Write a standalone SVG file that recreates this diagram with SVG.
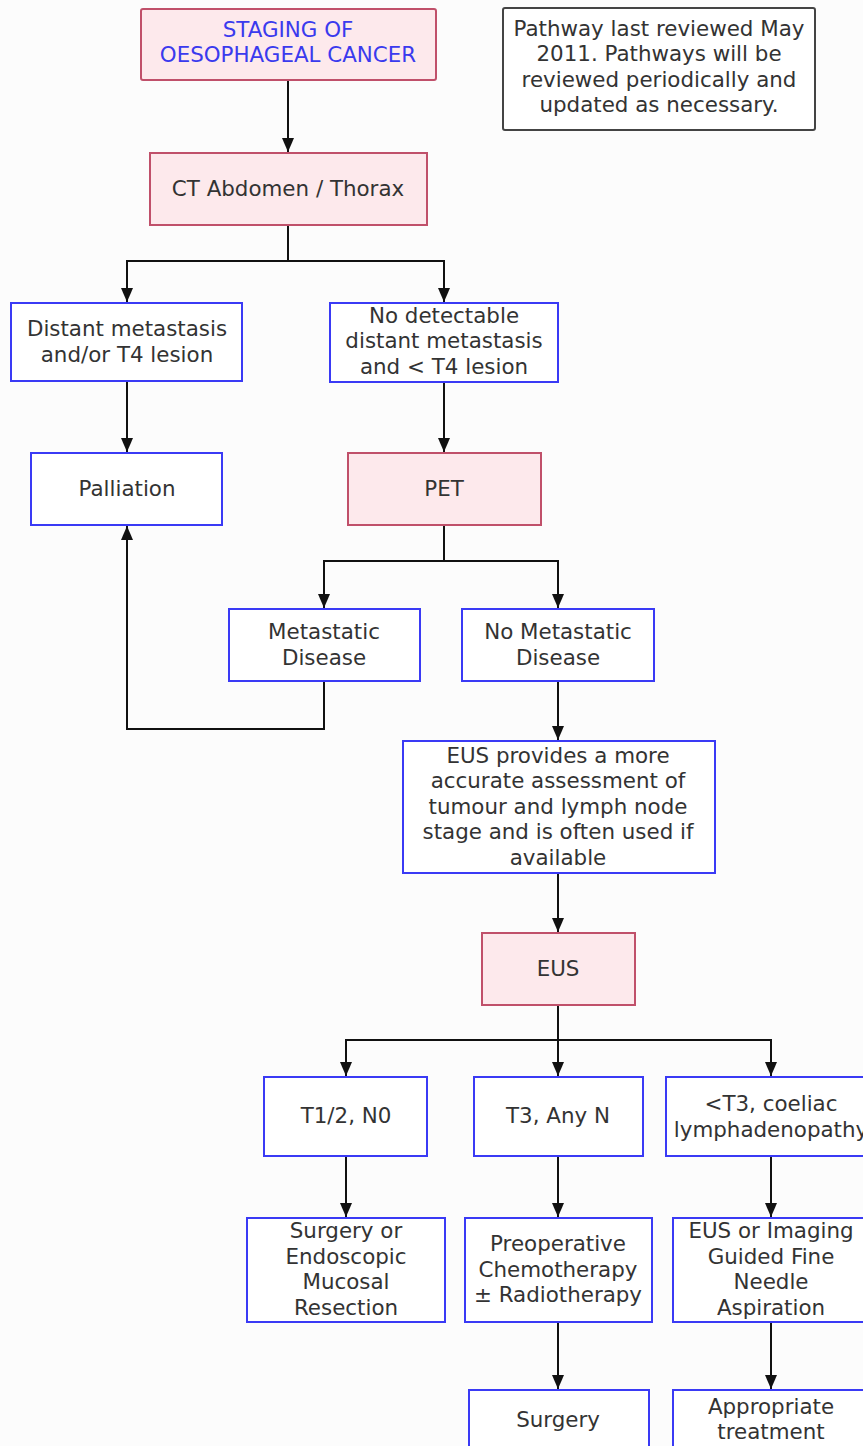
<svg xmlns="http://www.w3.org/2000/svg" width="863" height="1446" viewBox="0 0 863 1446">
<style>
text{font-family:"DejaVu Sans","Liberation Sans",sans-serif;font-size:21.4px;fill:#333;text-anchor:middle}
.b{fill:#fff;stroke:#3a3af5;stroke-width:2}
.p{fill:#fde9ec;stroke:#c0506a;stroke-width:2}
.n{fill:#fff;stroke:#444;stroke-width:2}
.t{fill:#3a3aee}
.c{fill:none;stroke:#111;stroke-width:2}
</style>
<defs>
<marker id="ah" markerUnits="userSpaceOnUse" viewBox="0 0 12 14" markerWidth="12" markerHeight="14" refX="14" refY="6" orient="auto">
<path d="M0,0 L14,6 L0,12 z" fill="#111"/>
</marker>
</defs>
<rect width="863" height="1446" fill="#fcfcfc"/>
<g id="connectors">
<path class="c" d="M288,80 V152" marker-end="url(#ah)"/>
<path class="c" d="M288,225 V261 H127 V302" marker-end="url(#ah)"/>
<path class="c" d="M288,261 H444 V302" marker-end="url(#ah)"/>
<path class="c" d="M127,382 V452" marker-end="url(#ah)"/>
<path class="c" d="M444,382 V452" marker-end="url(#ah)"/>
<path class="c" d="M444,525 V561 H324 V608" marker-end="url(#ah)"/>
<path class="c" d="M444,561 H558 V608" marker-end="url(#ah)"/>
<path class="c" d="M324,681 V729 H127 V526" marker-end="url(#ah)"/>
<path class="c" d="M558,681 V740" marker-end="url(#ah)"/>
<path class="c" d="M558,873 V932" marker-end="url(#ah)"/>
<path class="c" d="M558,1005 V1040 H346 V1076" marker-end="url(#ah)"/>
<path class="c" d="M558,1040 V1076" marker-end="url(#ah)"/>
<path class="c" d="M558,1040 H771 V1076" marker-end="url(#ah)"/>
<path class="c" d="M346,1156 V1217" marker-end="url(#ah)"/>
<path class="c" d="M558,1156 V1217" marker-end="url(#ah)"/>
<path class="c" d="M771,1156 V1217" marker-end="url(#ah)"/>
<path class="c" d="M558,1322 V1389" marker-end="url(#ah)"/>
<path class="c" d="M771,1322 V1389" marker-end="url(#ah)"/>
</g>
<g id="title">
<rect class="p" x="141" y="9" width="295" height="71" rx="2"/>
<text class="t" x="288" y="37">STAGING OF</text>
<text class="t" x="288" y="62">OESOPHAGEAL CANCER</text>
</g>
<g id="note">
<rect class="n" x="503" y="8" width="312" height="122" rx="2"/>
<text x="659" y="36">Pathway last reviewed May</text>
<text x="659" y="61">2011. Pathways will be</text>
<text x="659" y="87">reviewed periodically and</text>
<text x="659" y="112">updated as necessary.</text>
</g>
<g id="ct">
<rect class="p" x="150" y="153" width="277" height="72"/>
<text x="288" y="196">CT Abdomen / Thorax</text>
</g>
<g id="distant">
<rect class="b" x="11" y="303" width="231" height="78"/>
<text x="127" y="336">Distant metastasis</text>
<text x="127" y="362">and/or T4 lesion</text>
</g>
<g id="nodetect">
<rect class="b" x="330" y="303" width="228" height="79"/>
<text x="444" y="323">No detectable</text>
<text x="444" y="348">distant metastasis</text>
<text x="444" y="374">and &lt; T4 lesion</text>
</g>
<g id="palliation">
<rect class="b" x="31" y="453" width="191" height="72"/>
<text x="127" y="496">Palliation</text>
</g>
<g id="pet">
<rect class="p" x="348" y="453" width="193" height="72"/>
<text x="444" y="496">PET</text>
</g>
<g id="metastatic">
<rect class="b" x="229" y="609" width="191" height="72"/>
<text x="324" y="639">Metastatic</text>
<text x="324" y="665">Disease</text>
</g>
<g id="nometastatic">
<rect class="b" x="462" y="609" width="192" height="72"/>
<text x="558" y="639">No Metastatic</text>
<text x="558" y="665">Disease</text>
</g>
<g id="eusinfo">
<rect class="b" x="403" y="741" width="312" height="132"/>
<text x="558" y="763">EUS provides a more</text>
<text x="558" y="788">accurate assessment of</text>
<text x="558" y="814">tumour and lymph node</text>
<text x="558" y="839">stage and is often used if</text>
<text x="558" y="865">available</text>
</g>
<g id="eus">
<rect class="p" x="482" y="933" width="153" height="72"/>
<text x="558" y="976">EUS</text>
</g>
<g id="t12">
<rect class="b" x="264" y="1077" width="163" height="79"/>
<text x="346" y="1123">T1/2, N0</text>
</g>
<g id="t3">
<rect class="b" x="474" y="1077" width="169" height="79"/>
<text x="558" y="1123">T3, Any N</text>
</g>
<g id="lt3">
<rect class="b" x="666" y="1077" width="210" height="79"/>
<text x="771" y="1111">&lt;T3, coeliac</text>
<text x="771" y="1137">lymphadenopathy</text>
</g>
<g id="surgeryor">
<rect class="b" x="247" y="1218" width="198" height="104"/>
<text x="346" y="1238">Surgery or</text>
<text x="346" y="1264">Endoscopic</text>
<text x="346" y="1289">Mucosal</text>
<text x="346" y="1315">Resection</text>
</g>
<g id="preop">
<rect class="b" x="465" y="1218" width="187" height="104"/>
<text x="558" y="1251">Preoperative</text>
<text x="558" y="1277">Chemotherapy</text>
<text x="558" y="1302">± Radiotherapy</text>
</g>
<g id="fna">
<rect class="b" x="673" y="1218" width="200" height="104"/>
<text x="771" y="1238">EUS or Imaging</text>
<text x="771" y="1264">Guided Fine</text>
<text x="771" y="1289">Needle</text>
<text x="771" y="1315">Aspiration</text>
</g>
<g id="surgery">
<rect class="b" x="469" y="1390" width="180" height="70"/>
<text x="558" y="1427">Surgery</text>
</g>
<g id="appropriate">
<rect class="b" x="673" y="1390" width="200" height="70"/>
<text x="771" y="1414">Appropriate</text>
<text x="771" y="1439">treatment</text>
</g>
</svg>
